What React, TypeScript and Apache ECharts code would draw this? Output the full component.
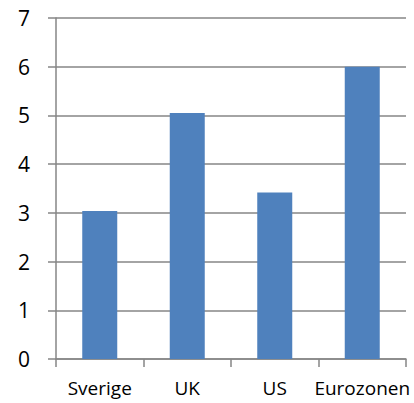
import React, { useEffect, useRef } from "react";
import * as echarts from "echarts";

const categories = ["Sverige", "UK", "US", "Eurozonen"];
const values = [3.04, 5.05, 3.42, 6.0];
const yMin = 0;
const yMax = 7;
const yInterval = 1;

export default function App() {
  const ref = useRef<HTMLDivElement>(null);
  useEffect(() => {
    if (!ref.current) return;
    const chart = echarts.init(ref.current, null, { renderer: "svg" });
    const axisColor = "#868686";
    const font = "'Open Sans', 'Noto Sans', sans-serif";
    chart.setOption({
      animation: false,
      backgroundColor: "#ffffff",
      grid: { left: 56, right: 8, top: 18, bottom: 44, containLabel: false },
      xAxis: {
        type: "category",
        data: categories,
        axisLine: { show: true, lineStyle: { color: axisColor, width: 1.5 } },
        axisTick: { show: true, length: 8, alignWithLabel: false, lineStyle: { color: axisColor, width: 1.5 } },
        axisLabel: { color: "#000", fontSize: 19, fontFamily: font, margin: 19, interval: 0 },
        splitLine: { show: false },
      },
      yAxis: {
        type: "value",
        min: yMin,
        max: yMax,
        interval: yInterval,
        axisLine: { show: true, lineStyle: { color: axisColor, width: 1.5 } },
        axisTick: { show: true, length: 8, lineStyle: { color: axisColor, width: 1.5 } },
        axisLabel: { color: "#000", fontSize: 21, fontFamily: font, margin: 26 },
        splitLine: { show: true, lineStyle: { color: axisColor, width: 1.5 } },
      },
      series: [
        {
          type: "bar",
          data: values,
          barCategoryGap: "60%",
          itemStyle: { color: "#4F81BD" },
        },
      ],
    });
    return () => chart.dispose();
  }, []);
  return (
    <div
      ref={ref}
      style={{ position: "fixed", left: 0, top: 0, width: 414, height: 403 }}
    />
  );
}
